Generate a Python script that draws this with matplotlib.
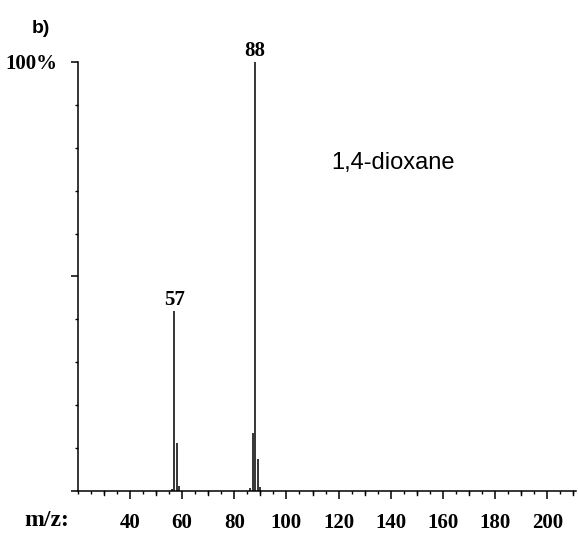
import matplotlib
matplotlib.use("Agg")
import matplotlib.pyplot as plt
from matplotlib.ticker import MultipleLocator

# m/z peaks of 1,4-dioxane (relative intensity, %)
mz = [56, 57, 58, 59, 86, 87, 88, 89, 90]
intensity = [0.5, 42, 11.3, 1.2, 0.6, 13.5, 100, 7.5, 1.0]
labelled = [57, 88]
major_ticks = [40, 60, 80, 100, 120, 140, 160, 180, 200]

serif = ["Liberation Serif", "DejaVu Serif"]
sans = ["Liberation Sans", "DejaVu Sans"]

fig = plt.figure(figsize=(5.78, 5.33), dpi=100)
ax = fig.add_axes([0.1345, 0.0788, 0.862, 0.8049])

ax.vlines(mz, 0, intensity, color="black", linewidth=1.1)
for m, v in zip(mz, intensity):
    if m in labelled:
        ax.text(m, v + 0.3, str(m), ha="center", va="bottom",
                family=serif, fontweight="bold", fontsize=15)

ax.set_xlim(20, 211)
ax.set_ylim(0, 100)

for s in ["top", "right"]:
    ax.spines[s].set_visible(False)
ax.spines["left"].set_linewidth(1.1)
ax.spines["bottom"].set_linewidth(1.1)

# x ticks: 20 major, 10 medium, 5 short
ax.set_xticks(major_ticks)
ax.set_xticklabels([str(t) for t in major_ticks], family=serif,
                   fontweight="bold", fontsize=15)
ax.xaxis.set_minor_locator(MultipleLocator(5))
ax.tick_params(axis="x", which="major", length=5.5, width=1.1, pad=10.5)
ax.tick_params(axis="x", which="minor", length=2.5, width=1.0)
for t in range(30, 211, 20):
    ax.plot([t, t], [0, -0.01], transform=ax.get_xaxis_transform(),
            color="black", linewidth=1.0, clip_on=False)

# y ticks: every 10%, only 100% labelled
ax.set_yticks([0, 50, 100])
ax.set_yticklabels(["", "", "100%"], family=serif, fontweight="bold",
                   fontsize=15)
ax.yaxis.set_minor_locator(MultipleLocator(10))
ax.tick_params(axis="y", which="major", length=5, width=1.1, pad=10)
ax.tick_params(axis="y", which="minor", length=2, width=1.0)

fig.text(0.081, 0.024, "m/z:", family=serif, fontweight="bold", fontsize=17,
         ha="center", va="center")
fig.text(0.07, 0.947, "b)", family=sans, fontweight="bold", fontsize=14,
         ha="center", va="center")
ax.text(141, 76.4, "1,4-dioxane", family=sans, fontsize=17,
        ha="center", va="center")

fig.savefig("out.png", dpi=100)
